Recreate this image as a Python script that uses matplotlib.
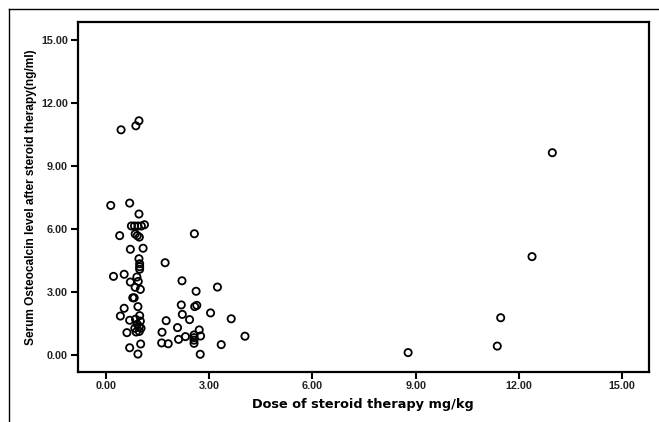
import numpy as np
import matplotlib.pyplot as plt
from matplotlib.lines import Line2D

# dose of steroid therapy (mg/kg)
dose = [0.44, 0.87, 0.96, 0.14, 0.69, 0.96,
        0.74, 0.83, 0.93, 1.03, 1.12, 0.40,
        0.85, 0.91, 0.97, 2.57, 0.71, 1.08, 0.96,
        0.98, 0.98, 0.98, 1.72, 0.22, 0.53, 0.90,
        0.71, 0.94, 2.21, 0.85, 1.00, 3.24, 2.62,
        0.78, 0.82, 2.19, 0.93, 2.58, 2.64, 0.53,
        3.04, 2.22, 0.42, 0.98, 0.69, 0.86, 2.43,
        3.64, 1.75, 1.00, 0.91, 1.02, 0.84, 2.08,
        2.71, 0.61, 0.88, 0.97, 1.63, 4.04, 2.11,
        2.31, 2.56, 2.56, 2.56, 2.56, 2.75, 1.62,
        1.81, 1.01, 3.35, 0.69, 0.93, 2.74, 0.97,
        8.78, 11.37, 11.47, 12.38, 12.97]

# serum osteocalcin after therapy (ng/ml)
osteocalcin = [10.71, 10.90, 11.14, 7.11, 7.22, 6.70,
               6.13, 6.13, 6.13, 6.13, 6.19, 5.67,
               5.75, 5.67, 5.60, 5.76, 5.02, 5.07, 4.57,
               4.33, 4.19, 4.07, 4.38, 3.73, 3.83, 3.70,
               3.46, 3.49, 3.52, 3.21, 3.11, 3.22, 3.02,
               2.71, 2.71, 2.37, 2.29, 2.29, 2.35, 2.21,
               1.99, 1.92, 1.84, 1.86, 1.64, 1.69, 1.67,
               1.71, 1.62, 1.60, 1.45, 1.26, 1.26, 1.29,
               1.18, 1.05, 1.08, 1.11, 1.07, 0.88, 0.73,
               0.86, 0.94, 0.81, 0.69, 0.54, 0.89, 0.56,
               0.52, 0.51, 0.48, 0.33, 0.03, 0.02, 1.33,
               0.10, 0.41, 1.76, 4.67, 9.62]

ticks = [0, 3, 6, 9, 12, 15]
tick_labels = ["%.2f" % t for t in ticks]

fig = plt.figure(figsize=(6.59, 4.22), dpi=100)
ax = fig.add_axes([0.1179, 0.1192, 0.867, 0.8294])

ax.scatter(dose, osteocalcin, s=27, facecolors="none", edgecolors="black",
           linewidths=1.3, zorder=3)

ax.set_xlim(-0.82, 15.78)
ax.set_ylim(-0.81, 15.86)
ax.set_xticks(ticks)
ax.set_xticklabels(tick_labels)
ax.set_yticks(ticks)
ax.set_yticklabels(tick_labels)

for lab in ax.get_xticklabels() + ax.get_yticklabels():
    lab.set_fontfamily("Liberation Sans")
    lab.set_fontweight("bold")
    lab.set_fontsize(7.8)
    lab.set_color("#222222")

ax.tick_params(direction="out", length=5, width=1.5, pad=2)
for sp in ax.spines.values():
    sp.set_linewidth(1.6)

ax.set_xlabel("Dose of steroid therapy mg/kg", fontfamily="DejaVu Sans",
              fontweight="bold", fontsize=9.3, labelpad=5)
ax.set_ylabel("Serum Osteocalcin level after steroid therapy(ng/ml)",
              fontfamily="Liberation Sans", fontweight="bold", fontsize=8.6,
              labelpad=3)

# outer frame (top and left edges only)
fig.add_artist(Line2D([9 / 659, 9 / 659], [0, 1 - 9 / 422], color="black", lw=1.0))
fig.add_artist(Line2D([9 / 659, 1], [1 - 9 / 422, 1 - 9 / 422], color="black", lw=1.0))

fig.savefig("out.png", dpi=100)
